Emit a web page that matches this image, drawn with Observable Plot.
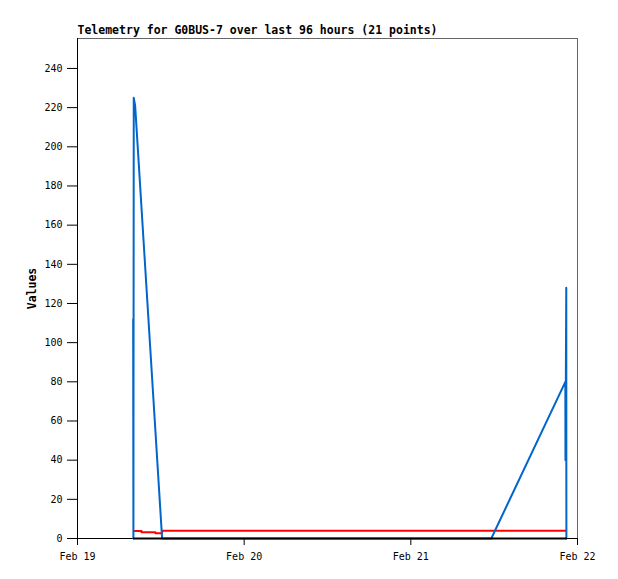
<!DOCTYPE html>
<html><head><meta charset="utf-8">
<script src="https://cdn.jsdelivr.net/npm/d3@7"></script>
<script src="https://cdn.jsdelivr.net/npm/@observablehq/plot@0.6"></script>
<style>body{margin:0;background:#fff}#chart svg{display:block}</style>
</head><body><div id="chart"></div>
<script>
const titleText = "Telemetry for G0BUS-7 over last 96 hours (21 points)";
const yLabel = "Values";
const xDomain = ["2024-02-19T00:00", "2024-02-22T00:00"];
const xTickDates = ["2024-02-19T00:00", "2024-02-20T00:00", "2024-02-21T00:00", "2024-02-22T00:00"];
const yTicks = [0, 20, 40, 60, 80, 100, 120, 140, 160, 180, 200, 220, 240];
const yMax = 255.3;

const blueTimes = ["2024-02-19T08:01", "2024-02-19T08:03", "2024-02-19T08:06", "2024-02-19T08:18", "2024-02-19T12:11", "2024-02-21T11:35", "2024-02-21T22:15", "2024-02-21T22:16", "2024-02-21T22:23", "2024-02-21T22:24"];
const blueValues = [112, 0, 225, 221, 0, 0, 80, 40, 128, 0];

const redTimes = ["2024-02-19T08:06", "2024-02-19T09:13", "2024-02-19T11:13", "2024-02-19T12:11", "2024-02-21T22:22"];
const redValues = [3.8, 3.2, 2.7, 3.9, 3.9];

const blackTimes = ["2024-02-19T08:06", "2024-02-21T22:23"];
const blackValues = [0, 0];

const toDate = s => new Date(s + ":00Z");
const zip = (ts, vs) => ts.map((t, i) => ({t: toDate(t), v: vs[i]}));
const blue = zip(blueTimes, blueValues);
const red = zip(redTimes, redValues);
const black = zip(blackTimes, blackValues);

const font = "'DejaVu Sans Mono', monospace";

const chart = Plot.plot({
  width: 618,
  height: 579,
  marginLeft: 77,
  marginRight: 41,
  marginTop: 38,
  marginBottom: 41,
  style: {fontFamily: font, fontSize: "10px", background: "#fff", color: "#000"},
  x: {type: "utc", domain: xDomain.map(toDate)},
  y: {domain: [0, yMax]},
  marks: [
    Plot.frame({stroke: "#666"}),
    Plot.axisY({ticks: yTicks, tickSize: 10, tickPadding: 5, label: null, fontSize: 10}),
    Plot.axisX({ticks: xTickDates.map(toDate), tickFormat: d3.utcFormat("%b %d"), tickSize: 7, tickPadding: 7, label: null, fontSize: 10}),
    Plot.ruleX([toDate(xDomain[0])], {stroke: "#000"}),
    Plot.ruleY([0], {stroke: "#000"}),
    Plot.line(red, {x: "t", y: "v", stroke: "#ff0000", strokeWidth: 2, curve: "step-after"}),
    Plot.line(blue, {x: "t", y: "v", stroke: "#0066cc", strokeWidth: 2}),
    Plot.line(black, {x: "t", y: "v", stroke: "#000", strokeWidth: 2}),
    Plot.text([titleText], {text: d => d, frameAnchor: "top-left", dy: -5, lineAnchor: "bottom", textAnchor: "start", fontWeight: "bold", fontSize: 11.5}),
    Plot.text([yLabel], {text: d => d, frameAnchor: "left", dx: -45, rotate: -90, textAnchor: "middle", fontWeight: "bold", fontSize: 11.5})
  ]
});
document.getElementById("chart").appendChild(chart);
</script>
</body></html>
